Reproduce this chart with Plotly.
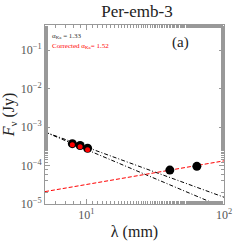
import plotly.graph_objects as go
import math

# Data
wavelength_mm = [7.9, 9.0, 10.2, 40.4, 63.5]
flux_jy = [3.7e-4, 3.3e-4, 2.8e-4, 7.6e-5, 9.5e-5]
corr_wavelength_mm = [7.9, 9.0, 10.2]
corr_flux_jy = [3.45e-4, 3.05e-4, 2.55e-4]

fit_x = [5, 100]
fit_alpha_ka = [7.4e-4, 1.5e-5]       # alpha = 1.33
fit_alpha_corr = [7.4e-4, 8.0e-6]     # alpha = 1.52
fit_freefree = [2.1e-5, 1.32e-4]

xtick_vals = [10, 100]
xtick_text = ["10<sup>1</sup>", "10<sup>2</sup>"]
ytick_vals = [1e-5, 1e-4, 1e-3, 1e-2, 1e-1]
ytick_text = ["10<sup>\u22125</sup>", "10<sup>\u22124</sup>", "10<sup>\u22123</sup>",
              "10<sup>\u22122</sup>", "10<sup>\u22121</sup>"]

serif = "Liberation Serif"

fig = go.Figure()
fig.add_trace(go.Scatter(x=fit_x, y=fit_alpha_ka, mode="lines",
                         line=dict(color="black", width=1, dash="4px,2px,1px,2px"), showlegend=False))
fig.add_trace(go.Scatter(x=fit_x, y=fit_alpha_corr, mode="lines",
                         line=dict(color="black", width=1, dash="4px,2px,1px,2px"), showlegend=False))
fig.add_trace(go.Scatter(x=fit_x, y=fit_freefree, mode="lines",
                         line=dict(color="red", width=1, dash="4px,2px"), showlegend=False))
fig.add_trace(go.Scatter(x=wavelength_mm, y=flux_jy, mode="markers",
                         marker=dict(color="black", size=9), showlegend=False))
fig.add_trace(go.Scatter(x=corr_wavelength_mm, y=corr_flux_jy, mode="markers",
                         marker=dict(color="red", size=5), showlegend=False))

axis_common = dict(showline=True, linecolor="#999999", linewidth=1, mirror="allticks",
                   ticks="inside", ticklen=5, tickcolor="#999999", showgrid=False,
                   zeroline=False, automargin=False,
                   tickfont=dict(family=serif, size=12, color="#555555"),
                   minor=dict(ticks="inside", ticklen=3, tickcolor="#999999", showgrid=False))

fig.update_xaxes(type="log", range=[math.log10(5), 2], tickvals=xtick_vals, ticktext=xtick_text,
                 title=dict(text="λ (mm)", font=dict(family=serif, size=16, color="#222222"), standoff=4),
                 **axis_common)
fig.update_yaxes(type="log", range=[-5, -0.35], tickvals=ytick_vals, ticktext=ytick_text,
                 title=dict(text="<i>F</i><sub>ν</sub> (Jy)", font=dict(family=serif, size=16, color="#222222"), standoff=2),
                 **axis_common)

fig.add_annotation(xref="paper", yref="paper", x=0.03, y=0.94, xanchor="left", yanchor="middle",
                   text="α<sub>Ka</sub> = 1.33", showarrow=False,
                   font=dict(family=serif, size=7, color="#333333"))
fig.add_annotation(xref="paper", yref="paper", x=0.03, y=0.885, xanchor="left", yanchor="middle",
                   text="Corrected α<sub>Ka</sub>= 1.52", showarrow=False,
                   font=dict(family=serif, size=7, color="red"))
fig.add_annotation(xref="paper", yref="paper", x=0.7, y=0.9, xanchor="left", yanchor="middle",
                   text="(a)", showarrow=False,
                   font=dict(family=serif, size=15, color="#222222"))

fig.update_layout(width=249, height=249, margin=dict(l=45, r=25, t=25, b=45),
                  paper_bgcolor="white", plot_bgcolor="white",
                  title=dict(text="Per-emb-3", x=0.55, xanchor="center", y=0.955, yanchor="middle",
                             font=dict(family=serif, size=17, color="#222222")))

fig.write_html("out.html", config={"displayModeBar": False},
               post_script="document.body.style.margin='0';document.body.style.padding='0';")
